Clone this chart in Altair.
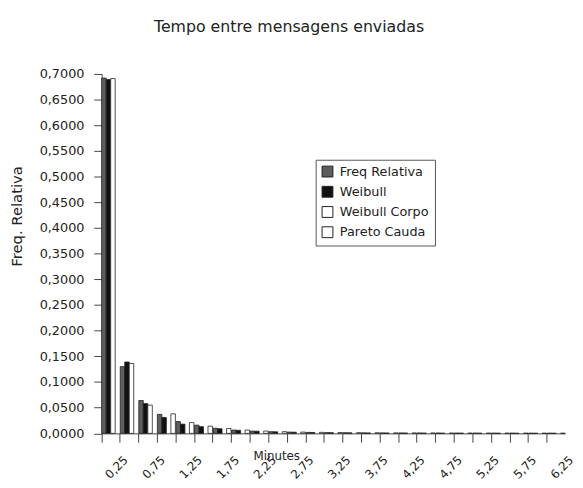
import altair as alt
import pandas as pd

bins = ["0,25", "0,50", "0,75", "1,00", "1,25", "1,50", "1,75", "2,00", "2,25",
        "2,50", "2,75", "3,00", "3,25", "3,50", "3,75", "4,00", "4,25", "4,50",
        "4,75", "5,00", "5,25", "5,50", "5,75", "6,00", "6,25"]
series = ["Freq Relativa", "Weibull", "Weibull Corpo", "Pareto Cauda"]
y_ticks = [0.0, 0.05, 0.1, 0.15, 0.2, 0.25, 0.3, 0.35, 0.4, 0.45, 0.5, 0.55,
           0.6, 0.65, 0.7]

freq_relativa = [0.692, 0.130, 0.064, 0.037, 0.023, 0.016, 0.010, 0.0065, 0.0045,
                 0.0033, 0.0025, 0.0019, 0.0015, 0.0012, 0.0010, 0.0009, 0.0008,
                 0.0007, 0.0006, 0.0005, 0.0005, 0.0004, 0.0004, 0.0003, 0.0003]
weibull = [0.689, 0.139, 0.058, 0.031, 0.018, 0.013, 0.009, 0.006, 0.0042,
           0.0030, 0.0023, 0.0017, 0.0013, 0.0010, 0.0008, 0.0007, 0.0006,
           0.0005, 0.0004, 0.0004, 0.0003, 0.0003, 0.0002, 0.0002, 0.0002]
weibull_corpo = [0.691, 0.136, 0.055] + [0.0] * 22
pareto_cauda = [0.0, 0.0, 0.0, 0.038, 0.021, 0.014, 0.0095, 0.0065, 0.0045,
                0.0033, 0.0025, 0.0020, 0.0016, 0.0013, 0.0011, 0.0009, 0.0008,
                0.0007, 0.0006, 0.0005, 0.0005, 0.0004, 0.0004, 0.0003, 0.0003]

rows = []
for name, vals in zip(series, [freq_relativa, weibull, weibull_corpo, pareto_cauda]):
    for b, v in zip(bins, vals):
        rows.append({"bin": b, "serie": name, "valor": v})
df = pd.DataFrame(rows)

FONT = "DejaVu Sans"
TXT = "#222222"

chart = alt.Chart(df).transform_filter("datum.valor > 0").mark_bar(
    stroke="#222222", strokeWidth=0.8
).encode(
    x=alt.X("bin:N", sort=bins,
            scale=alt.Scale(paddingInner=0.03, paddingOuter=0),
            axis=alt.Axis(
                title="Minutes", bandPosition=0, labelAngle=-45,
                labelAlign="center", labelBaseline="middle",
                labelOffset=6, labelPadding=25, tickSize=9, labelFontSize=12,
                labelExpr="indexof(['25','75'], slice(datum.value, -2)) >= 0 ? datum.value : ''",
                titleX=177, titleY=22, titleAlign="center", titleBaseline="middle",
                titleFontWeight="normal", titleFontSize=12,
            )),
    xOffset=alt.XOffset("serie:N", sort=series, scale=alt.Scale(paddingInner=0)),
    y=alt.Y("valor:Q", scale=alt.Scale(domain=[0, 0.7], nice=False),
            axis=alt.Axis(
                title="Freq. Relativa", values=y_ticks,
                labelExpr="replace(format(datum.value, '.4f'), '.', ',')",
                tickSize=8, labelPadding=10, grid=False, labelFontSize=13,
                titleX=-86, titleY=144, titleAlign="center", titleBaseline="middle",
                titleAngle=-90, titleFontWeight="normal", titleFontSize=15,
            )),
    fill=alt.Fill("serie:N", sort=series,
                  scale=alt.Scale(domain=series,
                                  range=["#5e5e5e", "#111111", "#ffffff", "#ffffff"]),
                  legend=alt.Legend(
                      title=None, orient="none", legendX=217, legendY=87,
                      symbolType="square", symbolSize=121,
                      symbolStrokeColor="#222222", symbolStrokeWidth=1,
                      labelFontSize=13, labelFont=FONT, labelColor=TXT,
                      rowPadding=5.5, padding=5.5, strokeColor="#555555",
                      fillColor="#ffffff", labelOffset=6,
                  )),
).properties(
    width=470, height=364.5,
    title=alt.TitleParams("Tempo entre mensagens enviadas", fontSize=16,
                          font=FONT, fontWeight="normal", color=TXT,
                          anchor="middle", dx=-45, offset=34),
    autosize=alt.AutoSizeParams(type="none"),
    padding={"left": 95, "top": 63.5, "right": 10, "bottom": 50},
).configure_axis(
    labelFont=FONT, titleFont=FONT, labelColor=TXT,
    titleColor=TXT, domainColor="#444444", tickColor="#444444",
).configure_view(stroke=None)

chart.save("out.html", embed_options={"renderer": "svg", "actions": False})
